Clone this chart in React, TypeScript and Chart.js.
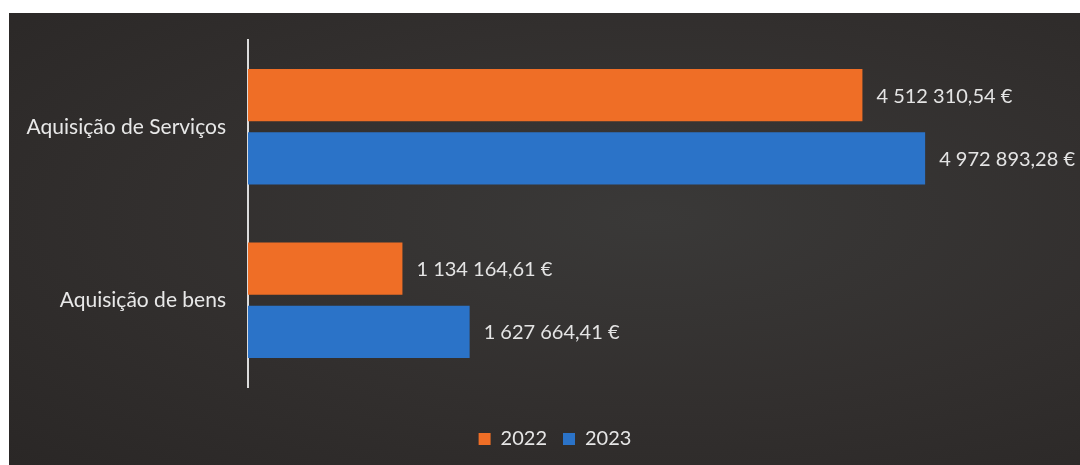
import React, { useEffect, useRef } from "react";
import { Chart, registerables } from "chart.js";

Chart.register(...registerables);

const categories = ["Aquisição de Serviços", "Aquisição de bens"];
const seriesNames = ["2022", "2023"];
const values2022 = [4512310.54, 1134164.61];
const values2023 = [4972893.28, 1627664.41];
const seriesColors = ["#ef6e26", "#2b73c8"];
const xMax = 6000000;

const FONT = "Lato, 'Open Sans', sans-serif";

function formatEuro(v: number): string {
  const [intPart, dec] = v.toFixed(2).split(".");
  const grouped = intPart.replace(/\B(?=(\d{3})+(?!\d))/g, " ");
  return `${grouped},${dec} €`;
}

const valueLabels = {
  id: "valueLabels",
  afterDatasetsDraw(chart: any) {
    const ctx = chart.ctx;
    ctx.save();
    ctx.font = `20px ${FONT}`;
    ctx.fillStyle = "#e4e4e4";
    ctx.textAlign = "left";
    ctx.textBaseline = "middle";
    chart.data.datasets.forEach((ds: any, di: number) => {
      const meta = chart.getDatasetMeta(di);
      meta.data.forEach((bar: any, i: number) => {
        ctx.fillText(formatEuro(ds.data[i]), bar.x + 14, bar.y + 1);
      });
    });
    ctx.restore();
  },
};

const legendShift = {
  id: "legendShift",
  afterLayout(chart: any) {
    const lg = chart.legend;
    if (lg) {
      lg.left += 18;
      lg.right += 18;
    }
  },
};

export default function App() {
  const ref = useRef<HTMLCanvasElement>(null);

  useEffect(() => {
    if (!ref.current) return;
    const chart = new Chart(ref.current, {
      type: "bar",
      data: {
        labels: categories,
        datasets: [
          {
            label: seriesNames[0],
            data: values2022,
            backgroundColor: seriesColors[0],
            categoryPercentage: 0.73,
            barPercentage: 0.825,
          },
          {
            label: seriesNames[1],
            data: values2023,
            backgroundColor: seriesColors[1],
            categoryPercentage: 0.73,
            barPercentage: 0.825,
          },
        ],
      },
      options: {
        indexAxis: "y",
        responsive: false,
        animation: false,
        layout: { padding: { top: 27, right: 15, bottom: 6, left: 0 } },
        scales: {
          x: {
            min: 0,
            max: xMax,
            display: true,
            grid: { display: false },
            border: { display: false },
            ticks: { display: false },
            afterFit: (s: any) => {
              s.height = 26;
              s.paddingLeft = 0;
              s.paddingRight = 0;
            },
          },
          y: {
            grid: { display: false, drawTicks: false },
            border: { display: true, color: "#dcdcdc", width: 2 },
            ticks: {
              color: "#e8e8e8",
              font: { family: FONT, size: 21 },
              padding: 22,
            },
            afterFit: (s: any) => {
              s.width = 239;
              s.paddingTop = 0;
              s.paddingBottom = 0;
            },
          },
        },
        plugins: {
          legend: {
            display: true,
            position: "bottom",
            labels: {
              color: "#e6e6e6",
              font: { family: FONT, size: 20 },
              boxWidth: 12,
              boxHeight: 12,
              padding: 16,
            },
          },
          tooltip: { enabled: false },
        },
      },
      plugins: [valueLabels, legendShift],
    });
    return () => chart.destroy();
  }, []);

  return (
    <div
      style={{
        position: "fixed",
        left: 9,
        top: 13,
        width: 1071,
        height: 452,
        background:
          "radial-gradient(ellipse at 60% 45%, #3a3938 0%, #322f2e 55%, #2a2726 100%)",
      }}
    >
      <canvas ref={ref} width={1071} height={452} style={{ display: "block" }} />
    </div>
  );
}
